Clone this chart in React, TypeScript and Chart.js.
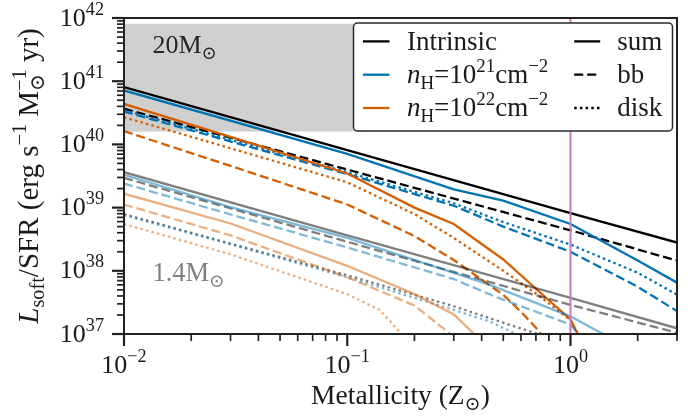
import React, { useEffect, useRef } from 'react';
import { Chart, registerables } from 'chart.js';

Chart.register(...registerables);

// ---------------- axis limits & ticks ----------------
const Z_MIN = 0.01;
const Z_MAX = 3;
const L_MIN = 1e37;
const L_MAX = 1e42;
const X_MAJOR = [0.01, 0.1, 1];
const X_MAJOR_EXP = ['−2', '−1', '0'];
const Y_MAJOR = [1e37, 1e38, 1e39, 1e40, 1e41, 1e42];
const Y_MAJOR_EXP = ['37', '38', '39', '40', '41', '42'];
const MINOR_MULT = [2, 3, 4, 5, 6, 7, 8, 9];

// ---------------- shaded region & marker ----------------
const BOX_Z = [0.01, 0.12];
const BOX_L = [1.6e40, 8.1e41];
const SOLAR_Z = 1;

// ---------------- 20 Msun ----------------
const Z_INTR20 = [0.01, 0.1, 1, 3];
const INTR20_SUM = [8.1e40, 8.1e39, 8.2e38, 2.8e38];
const INTR20_BB = [3.67e40, 4.0e39, 4.37e38, 1.45e38];

const Z_NH21_20 = [0.01, 0.1, 0.3, 0.5, 1, 2, 3];
const NH21_20_SUM = [7.14e40, 7.08e39, 1.95e39, 1.29e39, 5.5e38, 1.45e38, 6.5e37];
const NH21_20_BB = [3.31e40, 3.39e39, 1.07e39, 5.0e38, 2.0e38, 5.6e37, 2.3e37];
const NH21_20_DISK = [3.47e40, 3.63e39, 1.17e39, 5.9e38, 2.6e38, 9.3e37, 4.2e37];

const Z_NH22_20_SUM = [0.01, 0.03, 0.1, 0.2, 0.3, 0.5, 0.7, 1, 1.07, 1.3];
const NH22_20_SUM = [4.37e40, 1.32e40, 3.47e39, 1.0e39, 5.5e38, 1.51e38, 5.2e37, 1.7e37, 1.05e37, 4e36];
const Z_NH22_20_BB = [0.01, 0.03, 0.1, 0.2, 0.3, 0.5, 0.6, 0.7, 0.8];
const NH22_20_BB = [1.62e40, 4.57e39, 1.12e39, 3.55e38, 1.48e38, 4.17e37, 2.24e37, 1.26e37, 7.1e36];
const Z_NH22_20_DISK = [0.01, 0.03, 0.1, 0.2, 0.3, 0.5, 0.7, 1, 1.1];
const NH22_20_DISK = [2.69e40, 8.7e39, 2.51e39, 7.9e38, 3.31e38, 1.0e38, 4.37e37, 1.66e37, 8.9e36];

// ---------------- 1.4 Msun ----------------
const Z_INTR14 = [0.01, 0.1, 1, 3];
const INTR14_SUM = [3.63e39, 3.63e38, 3.72e37, 1.23e37];
const INTR14_BB = [2.95e39, 2.88e38, 2.88e37, 1.05e37];
const Z_INTR14_DISK = [0.01, 0.03, 0.1, 0.3, 0.5, 0.75, 1];
const INTR14_DISK = [7.9e38, 2.69e38, 8.5e37, 2.75e37, 1.51e37, 9.5e36, 6.3e36];

const Z_NH21_14_SUM = [0.01, 0.03, 0.1, 0.3, 0.435, 1, 1.4, 2];
const NH21_14_SUM = [3.31e39, 1.02e39, 3.31e38, 9.3e37, 6.0e37, 1.9e37, 1.0e37, 5e36];
const Z_NH21_14_BB = [0.01, 0.03, 0.1, 0.3, 0.46, 1, 1.1, 1.3];
const NH21_14_BB = [2.4e39, 7.8e38, 2.34e38, 7.4e37, 3.9e37, 1.41e37, 9.5e36, 5e36];
const Z_NH21_14_DISK = [0.01, 0.03, 0.1, 0.3, 0.435, 0.57, 0.7];
const NH21_14_DISK = [7.6e38, 2.63e38, 7.9e37, 2.4e37, 1.58e37, 1.0e37, 6.3e36];

const Z_NH22_14_SUM = [0.01, 0.03, 0.1, 0.2, 0.3, 0.37, 0.45];
const NH22_14_SUM = [1.66e39, 5.6e38, 1.2e38, 4.27e37, 2.04e37, 1.0e37, 5e36];
const Z_NH22_14_BB = [0.01, 0.03, 0.1, 0.2, 0.29, 0.35];
const NH22_14_BB = [1.12e39, 3.63e38, 7.9e37, 2.82e37, 1.0e37, 5e36];
const Z_NH22_14_DISK = [0.01, 0.03, 0.1, 0.14, 0.17, 0.2];
const NH22_14_DISK = [5.5e38, 1.82e38, 4.27e37, 2.4e37, 1.12e37, 6.3e36];

// ---------------- styles ----------------
const BLACK = '#000000';
const BLUE = '#0173B2';
const ORANGE = '#D55E00';
const BLACK_L = 'rgba(0,0,0,0.5)';
const BLUE_L = 'rgba(1,115,178,0.5)';
const ORANGE_L = 'rgba(213,94,0,0.5)';
const MAGENTA = '#CC78BC';
const SOLID: number[] = [];
const DASH = [9, 4];
const DOT = [2.5, 3.2];
const LW = 2.3;
const FONT = '"Liberation Serif", "DejaVu Serif", serif';
const TEXT = '#1a1a1a';

type Seg = { t: string; it?: boolean; pos?: 'sup' | 'sub'; sup2?: string };

function fontFor(size: number, it?: boolean) {
  return `${it ? 'italic ' : ''}${size}px ${FONT}`;
}
function segWidth(ctx: CanvasRenderingContext2D, s: Seg, size: number) {
  const sz = s.pos ? size * 0.7 : size;
  ctx.font = fontFor(sz, s.it);
  let w = ctx.measureText(s.t).width;
  if (s.sup2) {
    ctx.font = fontFor(size * 0.7);
    w = Math.max(w, ctx.measureText(s.sup2).width);
  }
  return w;
}
function drawRich(
  ctx: CanvasRenderingContext2D,
  segs: Seg[],
  x: number,
  y: number,
  size: number,
  align: 'left' | 'right' | 'center',
  color: string
) {
  let total = 0;
  for (const s of segs) total += segWidth(ctx, s, size);
  let cx = align === 'left' ? x : align === 'right' ? x - total : x - total / 2;
  ctx.fillStyle = color;
  ctx.textAlign = 'left';
  ctx.textBaseline = 'alphabetic';
  for (const s of segs) {
    const w = segWidth(ctx, s, size);
    const sz = s.pos ? size * 0.7 : size;
    ctx.font = fontFor(sz, s.it);
    const dy = s.pos === 'sup' ? -0.42 * size : s.pos === 'sub' ? 0.22 * size : 0;
    ctx.fillText(s.t, cx, y + dy);
    if (s.sup2) {
      ctx.font = fontFor(size * 0.7);
      ctx.fillText(s.sup2, cx, y - 0.42 * size);
    }
    cx += w;
  }
}

const pts = (z: number[], l: number[]) => z.map((v, i) => ({ x: v, y: l[i] }));

type Series = { z: number[]; l: number[]; color: string; dash: number[] };
// plotting order (first = bottom)
const SERIES: Series[] = [
  { z: Z_INTR20, l: INTR20_SUM, color: BLACK, dash: SOLID },
  { z: Z_INTR20, l: INTR20_BB, color: BLACK, dash: DASH },
  { z: Z_NH21_20, l: NH21_20_SUM, color: BLUE, dash: SOLID },
  { z: Z_NH21_20, l: NH21_20_BB, color: BLUE, dash: DASH },
  { z: Z_NH21_20, l: NH21_20_DISK, color: BLUE, dash: DOT },
  { z: Z_NH22_20_SUM, l: NH22_20_SUM, color: ORANGE, dash: SOLID },
  { z: Z_NH22_20_BB, l: NH22_20_BB, color: ORANGE, dash: DASH },
  { z: Z_NH22_20_DISK, l: NH22_20_DISK, color: ORANGE, dash: DOT },
  { z: Z_INTR14, l: INTR14_SUM, color: BLACK_L, dash: SOLID },
  { z: Z_INTR14, l: INTR14_BB, color: BLACK_L, dash: DASH },
  { z: Z_INTR14_DISK, l: INTR14_DISK, color: BLACK_L, dash: DOT },
  { z: Z_NH21_14_SUM, l: NH21_14_SUM, color: BLUE_L, dash: SOLID },
  { z: Z_NH21_14_BB, l: NH21_14_BB, color: BLUE_L, dash: DASH },
  { z: Z_NH21_14_DISK, l: NH21_14_DISK, color: BLUE_L, dash: DOT },
  { z: Z_NH22_14_SUM, l: NH22_14_SUM, color: ORANGE_L, dash: SOLID },
  { z: Z_NH22_14_BB, l: NH22_14_BB, color: ORANGE_L, dash: DASH },
  { z: Z_NH22_14_DISK, l: NH22_14_DISK, color: ORANGE_L, dash: DOT },
];

const LEGEND_LEFT: { segs: Seg[]; color: string }[] = [
  { segs: [{ t: 'Intrinsic' }], color: BLACK },
  { segs: [{ t: 'n', it: true }, { t: 'H', pos: 'sub' }, { t: '=10' }, { t: '21', pos: 'sup' }, { t: 'cm' }, { t: '−2', pos: 'sup' }], color: BLUE },
  { segs: [{ t: 'n', it: true }, { t: 'H', pos: 'sub' }, { t: '=10' }, { t: '22', pos: 'sup' }, { t: 'cm' }, { t: '−2', pos: 'sup' }], color: ORANGE },
];
const LEGEND_RIGHT: { label: string; dash: number[] }[] = [
  { label: 'sum', dash: SOLID },
  { label: 'bb', dash: DASH },
  { label: 'disk', dash: DOT },
];

const decor = {
  id: 'decor',
  beforeDatasetsDraw(chart: any) {
    const { ctx, chartArea: a, scales } = chart;
    const x = scales.x, y = scales.y;
    ctx.save();
    ctx.beginPath();
    ctx.rect(a.left, a.top, a.right - a.left, a.bottom - a.top);
    ctx.clip();
    const x0 = x.getPixelForValue(BOX_Z[0]);
    const x1 = x.getPixelForValue(BOX_Z[1]);
    const y0 = y.getPixelForValue(BOX_L[1]);
    const y1 = y.getPixelForValue(BOX_L[0]);
    ctx.fillStyle = '#d0d0d0';
    ctx.fillRect(x0, y0, x1 - x0, y1 - y0);
    ctx.restore();
  },
  afterDatasetsDraw(chart: any) {
    const { ctx, chartArea: a, scales } = chart;
    const x = scales.x, y = scales.y;
    ctx.save();

    // solar metallicity marker
    const xs = x.getPixelForValue(SOLAR_Z);
    ctx.strokeStyle = MAGENTA;
    ctx.lineWidth = 2;
    ctx.setLineDash([]);
    ctx.beginPath();
    ctx.moveTo(xs, a.top);
    ctx.lineTo(xs, a.bottom);
    ctx.stroke();

    // annotations
    drawRich(ctx, [{ t: '20M' }, { t: '⊙', pos: 'sub' }], x.getPixelForValue(0.0134), y.getPixelForValue(2.8e41), 26, 'left', '#262626');
    drawRich(ctx, [{ t: '1.4M' }, { t: '⊙', pos: 'sub' }], x.getPixelForValue(0.0134), y.getPixelForValue(6.8e37), 26.5, 'left', '#808080');

    // legend
    const lw = 319, lh = 108;
    const lx = a.right - 4.5 - lw, ly = a.top + 5;
    ctx.beginPath();
    (ctx as any).roundRect(lx, ly, lw, lh, 4);
    ctx.fillStyle = '#ffffff';
    ctx.fill();
    ctx.strokeStyle = '#2a2a2a';
    ctx.lineWidth = 1.5;
    ctx.stroke();
    const rows = [18.4, 51.7, 85];
    rows.forEach((ry, i) => {
      const cy = ly + ry;
      ctx.lineWidth = LW;
      ctx.setLineDash([]);
      ctx.strokeStyle = LEGEND_LEFT[i].color;
      ctx.beginPath();
      ctx.moveTo(lx + 9.4, cy);
      ctx.lineTo(lx + 36, cy);
      ctx.stroke();
      drawRich(ctx, LEGEND_LEFT[i].segs, lx + 53.4, cy + 8.3, 27, 'left', TEXT);
      ctx.strokeStyle = BLACK;
      ctx.setLineDash(LEGEND_RIGHT[i].dash);
      ctx.beginPath();
      ctx.moveTo(lx + 220.7, cy);
      ctx.lineTo(lx + 246.7, cy);
      ctx.stroke();
      ctx.setLineDash([]);
      drawRich(ctx, [{ t: LEGEND_RIGHT[i].label }], lx + 263.7, cy + 8.3, 27, 'left', TEXT);
    });

    // spines
    ctx.strokeStyle = '#222';
    ctx.lineWidth = 2;
    ctx.setLineDash([]);
    ctx.strokeRect(a.left, a.top, a.right - a.left, a.bottom - a.top);

    // ticks
    const tick = (x0: number, y0: number, x1: number, y1: number, w: number) => {
      ctx.lineWidth = w;
      ctx.beginPath();
      ctx.moveTo(x0, y0);
      ctx.lineTo(x1, y1);
      ctx.stroke();
    };
    X_MAJOR.forEach((v, i) => {
      const px = x.getPixelForValue(v);
      tick(px, a.bottom, px, a.bottom + 12, 2.2);
      drawRich(ctx, [{ t: '10' }, { t: X_MAJOR_EXP[i], pos: 'sup' }], px, a.bottom + 39, 26, 'center', TEXT);
      MINOR_MULT.forEach((m) => {
        const mv = v * m;
        if (mv < Z_MAX * 1.0001) {
          const mp = x.getPixelForValue(mv);
          tick(mp, a.bottom, mp, a.bottom + 7, 1.7);
        }
      });
    });
    Y_MAJOR.forEach((v, i) => {
      const py = y.getPixelForValue(v);
      tick(a.left, py, a.left - 12, py, 2.2);
      drawRich(ctx, [{ t: '10' }, { t: Y_MAJOR_EXP[i], pos: 'sup' }], a.left - 20, py + 7.5, 26, 'right', TEXT);
      if (v < L_MAX) {
        MINOR_MULT.forEach((m) => {
          const mp = y.getPixelForValue(v * m);
          tick(a.left, mp, a.left - 7, mp, 1.7);
        });
      }
    });

    // axis labels
    drawRich(ctx, [{ t: 'Metallicity (Z' }, { t: '⊙', pos: 'sub' }, { t: ')' }], (a.left + a.right) / 2, 404, 27.5, 'center', TEXT);
    ctx.save();
    ctx.translate(38, (a.top + a.bottom) / 2);
    ctx.rotate(-Math.PI / 2);
    drawRich(
      ctx,
      [
        { t: 'L', it: true },
        { t: 'soft', pos: 'sub' },
        { t: '/SFR (erg s' },
        { t: '−1', pos: 'sup' },
        { t: ' M' },
        { t: '⊙', pos: 'sub', sup2: '−1' },
        { t: ' yr)' },
      ],
      0,
      0,
      29,
      'center',
      TEXT
    );
    ctx.restore();

    ctx.restore();
  },
};

export default function App() {
  const ref = useRef<HTMLCanvasElement | null>(null);
  useEffect(() => {
    if (!ref.current) return;
    const datasets = SERIES.map((s) => ({
      data: pts(s.z, s.l),
      borderColor: s.color,
      backgroundColor: s.color,
      borderWidth: LW,
      borderDash: s.dash,
      pointRadius: 0,
      fill: false,
      tension: 0,
    })).reverse();
    const chart = new Chart(ref.current, {
      type: 'line',
      data: { datasets },
      options: {
        animation: false,
        responsive: false,
        devicePixelRatio: 1,
        layout: { padding: { left: 124, right: 21, top: 18, bottom: 85 } },
        plugins: { legend: { display: false }, tooltip: { enabled: false } },
        scales: {
          x: { type: 'logarithmic', min: Z_MIN, max: Z_MAX, display: false },
          y: { type: 'logarithmic', min: L_MIN, max: L_MAX, display: false },
        },
      },
      plugins: [decor],
    } as any);
    return () => chart.destroy();
  }, []);
  return (
    <div style={{ position: 'absolute', left: 0, top: 0, width: 698, height: 419, background: '#fff' }}>
      <canvas ref={ref} width={698} height={419} style={{ width: 698, height: 419 }} />
    </div>
  );
}
